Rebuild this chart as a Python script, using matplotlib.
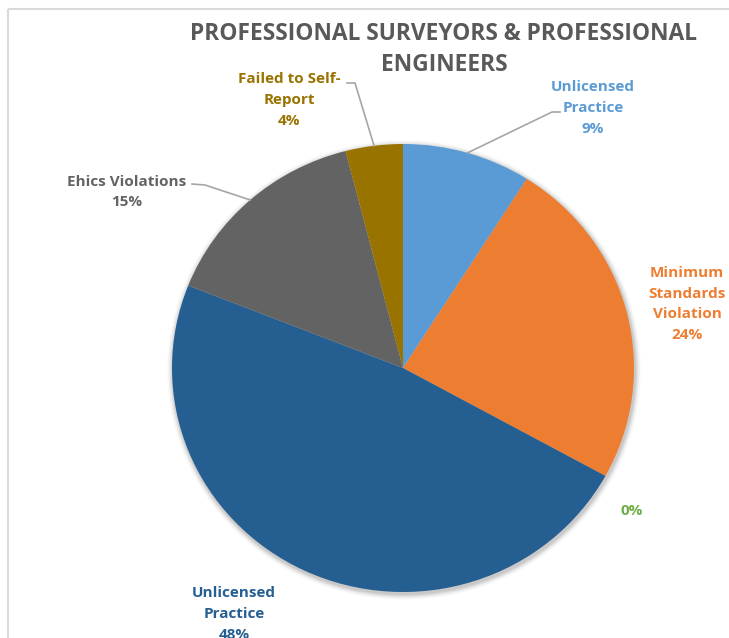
import numpy as np
import matplotlib
matplotlib.use("Agg")
import matplotlib.pyplot as plt
from matplotlib.patches import Ellipse

# ---- data ----
categories = ["Unlicensed\nPractice", "Minimum\nStandards\nViolation", "",
              "Unlicensed\nPractice", "Ehics Violations", "Failed to Self-\nReport"]
values = [9, 24, 0, 48, 15, 4]
colors = ["#5B9BD5", "#ED7D31", "#70AD47", "#255E91", "#636363", "#997300"]
text_colors = ["#5B9BD5", "#ED7D31", "#70AD47", "#255E91", "#636363", "#997300"]

W, H = 729, 638
fig = plt.figure(figsize=(W / 100, H / 100), dpi=100)
fig.patch.set_facecolor("white")
plt.rcParams['font.family'] = ['Open Sans', 'DejaVu Sans']

# pie geometry (pixels)
cx, cy, rx, ry = 403, 368, 231, 224

# background axes (frame + shadow)
bg = fig.add_axes([0, 0, 1, 1])
bg.set_xlim(0, W)
bg.set_ylim(H, 0)
bg.axis("off")
bg.set_zorder(1)
bg.plot([8, W], [9, 9], color="#d9d9d9", lw=1.5, solid_capstyle="butt")
bg.plot([8, 8], [9, H], color="#d9d9d9", lw=1.5, solid_capstyle="butt")
for i, a in enumerate(np.linspace(0.06, 0.015, 6)):
    bg.add_patch(Ellipse((cx + 1, cy + 2), 2 * (rx + 1 + i), 2 * (ry + 1 + i),
                         facecolor="black", alpha=a, edgecolor="none"))

# pie axes
pax = fig.add_axes([(cx - rx) / W, (H - (cy + ry)) / H, 2 * rx / W, 2 * ry / H])
pax.set_zorder(2)
pax.patch.set_alpha(0)
wedges, _ = pax.pie(values, colors=colors, startangle=90, counterclock=False,
                    radius=1, wedgeprops=dict(edgecolor="none", linewidth=0))
pax.set_aspect("auto")
pax.set_xlim(-1, 1)
pax.set_ylim(-1, 1)
pax.axis("off")

# overlay axes in pixel coords
ov = fig.add_axes([0, 0, 1, 1])
ov.set_xlim(0, W)
ov.set_ylim(H, 0)
ov.axis("off")
ov.set_zorder(3)
ov.patch.set_alpha(0)

# title
ov.text(444, 34, "PROFESSIONAL SURVEYORS & PROFESSIONAL", ha="center", va="center",
        fontsize=16.4, fontweight="bold", color="#595959")
ov.text(444, 65, "ENGINEERS", ha="center", va="center",
        fontsize=16.4, fontweight="bold", color="#595959")

# labels
pcts = [f"{v}%" for v in values]
label_pos = [(593, 108), (687, 304), (632, 511), (234, 614), (127, 192), (289, 100)]
for i, (x, y) in enumerate(label_pos):
    txt = categories[i] + ("\n" if categories[i] else "") + pcts[i]
    ov.text(x, y, txt, ha="center", va="center", fontsize=11, fontweight="bold",
            color=text_colors[i], linespacing=1.6)

# leader lines: from wedge edge (mid-angle) to elbow
elbows = {0: [(552, 112), (560, 112)], 4: [(205, 185), (192, 184)], 5: [(355, 83), (347, 83)]}
cum = np.cumsum([0] + values)
total = sum(values)
for i, pts in elbows.items():
    mid = (cum[i] + cum[i + 1]) / 2 / total
    ang = np.deg2rad(90 - 360 * mid)
    sx, sy = cx + rx * np.cos(ang), cy - ry * np.sin(ang)
    xs = [sx] + [p[0] for p in pts]
    ys = [sy] + [p[1] for p in pts]
    ov.plot(xs, ys, color="#a6a6a6", lw=1.2)

fig.savefig("out.png", dpi=100, facecolor="white")
